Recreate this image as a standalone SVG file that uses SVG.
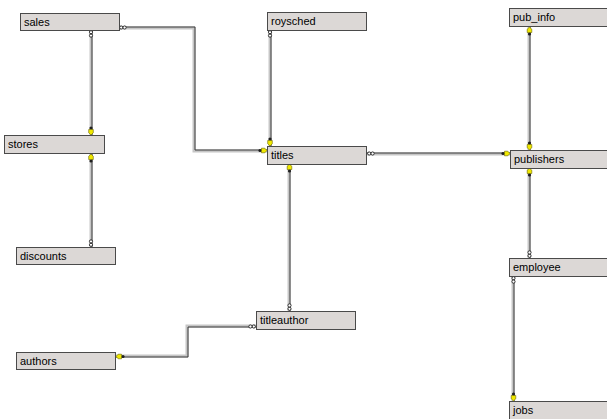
<svg xmlns="http://www.w3.org/2000/svg" xmlns:xlink="http://www.w3.org/1999/xlink" width="607" height="419" viewBox="0 0 607 419">
  <style>
    .box { fill: #dcd8d6; stroke: #4a4a4a; stroke-width: 1; }
    .lbl { font-family: "Liberation Sans", Arial, sans-serif; font-size: 11px; fill: #000; }
    .wl { fill: none; stroke: #c6c6c6; stroke-width: 3; }
    .wd { fill: none; stroke: #3a3a3a; stroke-width: 1; }
  </style>
  <defs>
    <!-- key end: points in +y, tip at origin -->
    <g id="key">
      <circle cx="0" cy="-7" r="1.6" fill="#202020"/>
      <path d="M-2.3,-5.5 L2.3,-5.5 L2.3,-2.2 L0,0 L-2.3,-2.2 Z" fill="#f0e800" stroke="#6a6400" stroke-width="0.6"/>
    </g>
    <!-- many end: two small rings along the line -->
    <g id="many">
      <circle cx="0" cy="-2.2" r="1.6" fill="#fff" stroke="#202020" stroke-width="0.9"/>
      <circle cx="0" cy="-5.6" r="1.6" fill="#fff" stroke="#202020" stroke-width="0.9"/>
    </g>
  </defs>

  <g id="connectors">
    <!-- sales - stores -->
    <path class="wl" d="M91,30 V135"/><path class="wd" d="M92,30 V135"/>
    <!-- stores - discounts -->
    <path class="wl" d="M91,154 V247"/><path class="wd" d="M92,154 V247"/>
    <!-- sales - titles -->
    <path class="wl" d="M119,28 H194 V151 H267"/><path class="wd" d="M119,27 H195 V150 H267"/>
    <!-- roysched - titles -->
    <path class="wl" d="M270,30 V146"/><path class="wd" d="M271,30 V146"/>
    <!-- titles - publishers -->
    <path class="wl" d="M367,154 H510"/><path class="wd" d="M367,153 H510"/>
    <!-- pub_info - publishers -->
    <path class="wl" d="M529,27 V150"/><path class="wd" d="M530,27 V150"/>
    <!-- titles - titleauthor -->
    <path class="wl" d="M289,164 V311"/><path class="wd" d="M290,164 V311"/>
    <!-- authors - titleauthor -->
    <path class="wl" d="M116,356 H187 V326 H256"/><path class="wd" d="M116,357 H188 V327 H256"/>
    <!-- publishers - employee -->
    <path class="wl" d="M529,168 V258"/><path class="wd" d="M530,168 V258"/>
    <!-- employee - jobs -->
    <path class="wl" d="M513,276 V401"/><path class="wd" d="M514,276 V401"/>

    <!-- end symbols -->
    <use xlink:href="#many" transform="translate(91,30) rotate(180)"/>
    <use xlink:href="#key" transform="translate(91,135)"/>
    <use xlink:href="#key" transform="translate(91,154) rotate(180)"/>
    <use xlink:href="#many" transform="translate(91,247)"/>
    <use xlink:href="#many" transform="translate(119,27.5) rotate(90)"/>
    <use xlink:href="#key" transform="translate(267,150.5) rotate(-90)"/>
    <use xlink:href="#many" transform="translate(270,30) rotate(180)"/>
    <use xlink:href="#key" transform="translate(270,146)"/>
    <use xlink:href="#many" transform="translate(367,153.5) rotate(90)"/>
    <use xlink:href="#key" transform="translate(510,153.5) rotate(-90)"/>
    <use xlink:href="#key" transform="translate(529.5,27) rotate(180)"/>
    <use xlink:href="#key" transform="translate(529.5,150)"/>
    <use xlink:href="#key" transform="translate(289.5,164) rotate(180)"/>
    <use xlink:href="#many" transform="translate(289.5,311)"/>
    <use xlink:href="#key" transform="translate(116,356.5) rotate(90)"/>
    <use xlink:href="#many" transform="translate(256,326.5) rotate(-90)"/>
    <use xlink:href="#key" transform="translate(529.5,168) rotate(180)"/>
    <use xlink:href="#many" transform="translate(529.5,258)"/>
    <use xlink:href="#many" transform="translate(513.5,276) rotate(180)"/>
    <use xlink:href="#key" transform="translate(513.5,401)"/>
  </g>

  <g id="sales"><rect class="box" x="20.5" y="13.5" width="99" height="17"/><text class="lbl" x="24" y="26">sales</text></g>
  <g id="roysched"><rect class="box" x="267.5" y="12.5" width="99" height="18"/><text class="lbl" x="271" y="25">roysched</text></g>
  <g id="pub_info"><rect class="box" x="509.5" y="8.5" width="105" height="18"/><text class="lbl" x="513" y="21">pub_info</text></g>
  <g id="stores"><rect class="box" x="4.5" y="135.5" width="100" height="18"/><text class="lbl" x="8" y="148">stores</text></g>
  <g id="titles"><rect class="box" x="267.5" y="146.5" width="99" height="18"/><text class="lbl" x="271" y="159">titles</text></g>
  <g id="publishers"><rect class="box" x="510.5" y="150.5" width="105" height="18"/><text class="lbl" x="514" y="163">publishers</text></g>
  <g id="discounts"><rect class="box" x="16.5" y="247.5" width="99" height="17"/><text class="lbl" x="20" y="260">discounts</text></g>
  <g id="employee"><rect class="box" x="509.5" y="258.5" width="105" height="18"/><text class="lbl" x="513" y="271">employee</text></g>
  <g id="titleauthor"><rect class="box" x="256.5" y="311.5" width="99" height="18"/><text class="lbl" x="260" y="324">titleauthor</text></g>
  <g id="authors"><rect class="box" x="16.5" y="352.5" width="99" height="17"/><text class="lbl" x="20" y="365">authors</text></g>
  <g id="jobs"><rect class="box" x="509.5" y="401.5" width="105" height="18"/><text class="lbl" x="513" y="414">jobs</text></g>
</svg>
